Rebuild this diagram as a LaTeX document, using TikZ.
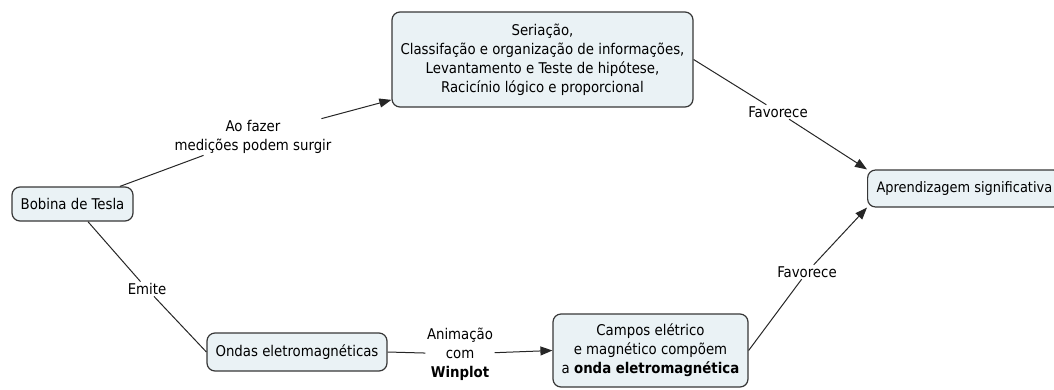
\documentclass[tikz,border=0pt]{standalone}
\usepackage{fontspec}
\setmainfont{DejaVu Sans Condensed}
\usetikzlibrary{arrows.meta}
\definecolor{boxfill}{RGB}{234,242,245}
\definecolor{boxline}{RGB}{55,55,55}
\begin{document}
\begin{tikzpicture}[x=1pt,y=-1pt,
  concept/.style={draw=boxline, fill=boxfill, rounded corners=8pt, line width=1.2pt,
    align=center, font=\fontsize{14.8}{19}\selectfont, inner sep=0pt},
  lab/.style={align=center, font=\fontsize{14.8}{19}\selectfont, inner sep=1.5pt},
  conn/.style={line width=1pt, draw=black!85},
  arr/.style={conn, -{Triangle[length=12pt,width=9pt]}}]
\useasboundingbox (0,0) rectangle (1054,389);
% concepts
\node[concept, minimum width=301pt, minimum height=95pt] (top) at (542.5,59.5)
  {Seriação,\\Classifação e organização de informações,\\Levantamento e Teste de hipótese,\\Racicínio lógico e proporcional};
\node[concept, minimum width=121pt, minimum height=34pt] (bob) at (72.5,204) {Bobina de Tesla};
\node[concept, anchor=west, minimum height=37pt, inner xsep=9pt, font=\fontsize{14.4}{19}\selectfont] (apr) at (867,188.5) {Aprendizagem significativa};
\node[concept, minimum width=180pt, minimum height=38pt] (ondas) at (297,352) {Ondas eletromagnéticas};
\node[concept, minimum width=195pt, minimum height=73pt] (campos) at (650.5,350.5)
  {Campos elétrico\\e magnético compõem\\a \textbf{onda eletromagnética}};
% linking phrases
\node[lab] (aofazer) at (253,137) {Ao fazer\\medições podem surgir};
\node[lab] (emite) at (147,289) {Emite};
\node[lab] (anim) at (460,354) {Animação\\com\\\textbf{Winplot}};
\node[lab] (fav1) at (778,112) {Favorece};
\node[lab] (fav2) at (807,272) {Favorece};
% connectors
\draw[conn] (bob) -- (aofazer);
\draw[arr] (aofazer) -- (top);
\draw[conn] (top.east) -- (fav1);
\draw[arr] (fav1) -- (apr.north west);
\draw[conn] (campos.east) -- (fav2);
\draw[arr] (fav2) -- (apr.south west);
\draw[conn] (bob) -- (emite);
\draw[conn] (emite) -- (ondas.west);
\draw[conn] (ondas.east) -- (anim);
\draw[arr] (anim) -- (campos.west);
\end{tikzpicture}
\end{document}
